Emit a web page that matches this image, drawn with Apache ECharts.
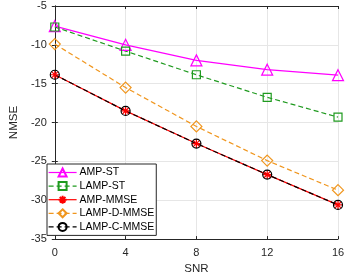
<!DOCTYPE html>
<html><head><meta charset="utf-8">
<script src="https://cdn.jsdelivr.net/npm/echarts@6/dist/echarts.min.js"></script>
<style>html,body{margin:0;padding:0;background:#fff}#c{width:349px;height:280px}</style>
</head><body><div id="c"></div>
<script>
const snr = [0, 4, 8, 12, 16];
const ampST = [-7.6, -10.0, -12.0, -13.2, -13.9];
const lampST = [-7.7, -10.8, -13.85, -16.75, -19.3];
const ampMMSE = [-13.85, -18.5, -22.7, -26.7, -30.6];
const lampDMMSE = [-9.9, -15.5, -20.5, -24.9, -28.7];
const lampCMMSE = [-13.85, -18.5, -22.7, -26.7, -30.6];
const names = ['AMP-ST', 'LAMP-ST', 'AMP-MMSE', 'LAMP-D-MMSE', 'LAMP-C-MMSE'];

const font = 'Liberation Sans, Arial, sans-serif';
const pair = (arr) => snr.map((x, i) => [x, arr[i]]);
const star = 'path://M0,-10L0,10M-10,0L10,0M-7,-7L7,7M-7,7L7,-7';

function mk(name, data, color, dashed, symbol, size, fill) {
  return {
    name, type: 'line', data: pair(data), symbol, symbolSize: size,
    lineStyle: { color, width: 1.2, type: dashed ? [5, 3] : 'solid' },
    itemStyle: { color: fill, borderColor: color, borderWidth: 1.2 },
    emphasis: { disabled: true }, animation: false, z: 2
  };
}

const chart = echarts.init(document.getElementById('c'), null, { renderer: 'canvas' });
const axisCommon = {
  axisLine: { show: true, lineStyle: { color: '#262626', width: 1 } },
  axisTick: { show: true, inside: true, length: 3, lineStyle: { color: '#262626' } },
  axisLabel: { color: '#262626', fontSize: 11, fontFamily: font },
};
chart.setOption({
  animation: false,
  grid: { left: 39, right: 11, top: 6, bottom: 39 },
  legend: {
    orient: 'vertical', left: 47, top: 164,
    padding: [3, 2, 3, 1], itemGap: 2.6, itemWidth: 28, itemHeight: 10,
    borderColor: '#262626', borderWidth: 1, backgroundColor: '#fff',
    lineStyle: { width: 1.2 },
    textStyle: { fontSize: 10.5, fontFamily: font, color: '#000', padding: [0, 0, 0, -2] },
    data: names
  },
  xAxis: [
    Object.assign({ type: 'value', min: 0, max: 16, interval: 4, position: 'bottom',
      name: 'SNR', nameLocation: 'middle', nameGap: 20,
      nameTextStyle: { fontSize: 11.5, fontFamily: font, color: '#262626' },
      splitLine: { show: true, lineStyle: { color: '#e6e6e6', width: 1 } } }, axisCommon),
    Object.assign({}, axisCommon, { type: 'value', min: 0, max: 16, interval: 4, position: 'top',
      axisLabel: { show: false }, splitLine: { show: false } })
  ],
  yAxis: [
    Object.assign({ type: 'value', min: -35, max: -5, interval: 5, position: 'left',
      name: 'NMSE', nameLocation: 'middle', nameGap: 31,
      nameTextStyle: { fontSize: 11.5, fontFamily: font, color: '#262626' },
      splitLine: { show: true, lineStyle: { color: '#e6e6e6', width: 1 } } }, axisCommon),
    Object.assign({}, axisCommon, { type: 'value', min: -35, max: -5, interval: 5, position: 'right',
      axisLabel: { show: false }, splitLine: { show: false } })
  ],
  series: [
    mk('AMP-ST', ampST, '#ff00ff', false, 'triangle', 11, 'rgba(0,0,0,0)'),
    mk('LAMP-ST', lampST, '#1f9a1f', true, 'rect', 8, 'rgba(0,0,0,0)'),
    mk('AMP-MMSE', ampMMSE, '#ff0000', false, star, 9, '#ff0000'),
    mk('LAMP-D-MMSE', lampDMMSE, '#f0961e', true, 'diamond', 11, 'rgba(0,0,0,0)'),
    mk('LAMP-C-MMSE', lampCMMSE, '#000000', true, 'circle', 9, 'rgba(0,0,0,0)')
  ]
});
</script></body></html>
